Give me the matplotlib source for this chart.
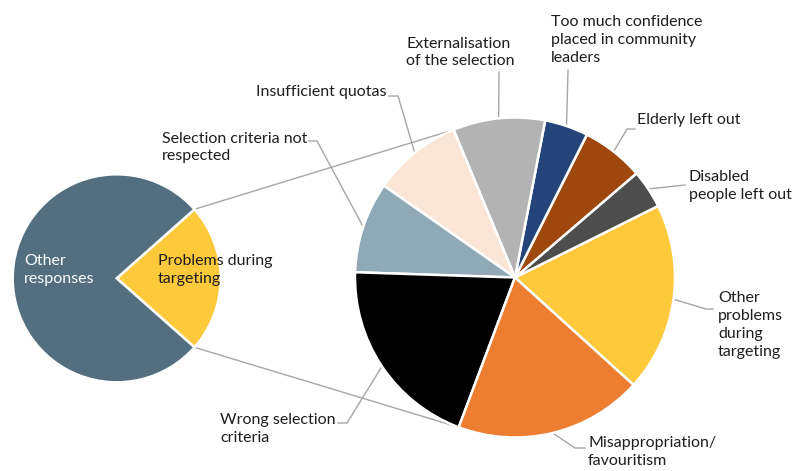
import numpy as np
import matplotlib
matplotlib.use("Agg")
import matplotlib.pyplot as plt

# Primary pie: share of responses
main_labels = ["Problems during\ntargeting", "Other responses"]
main_values = [23.1, 76.9]
main_colors = ["#FFC93C", "#526E7F"]

# Secondary pie: breakdown of problems during targeting (%)
detail_labels = [
    "Other\nproblems\nduring\ntargeting",
    "Disabled\npeople left out",
    "Elderly left out",
    "Too much confidence\nplaced in community\nleaders",
    "Externalisation\nof the selection",
    "Insufficient quotas",
    "Selection criteria not\nrespected",
    "Wrong selection\ncriteria",
    "Misappropriation/\nfavouritism",
]
detail_values = [19.1, 3.9, 6.3, 4.4, 9.3, 9.0, 9.2, 19.8, 19.0]
detail_colors = ["#FFC93C", "#4D4D4D", "#9E480E", "#25457A", "#B3B3B3",
                 "#FBE5D6", "#8FA9B6", "#000000", "#ED7D31"]

W, H = 796, 471
FONT = "Lato"
FS = 11.5
LS = 1.36
TXT = "#1E1E1E"
LINE = "#A6A6A6"

fig = plt.figure(figsize=(W / 100, H / 100), dpi=100)
ax = fig.add_axes([0, 0, 1, 1])


def Y(y):
    return H - y


# pie geometry (pixel layout, y measured from top)
c1, r1 = (116.7, Y(278.3)), 104
c2, r2 = (515.0, Y(277.5)), 160

main_span = main_values[0] / sum(main_values) * 360
w1, _ = ax.pie(main_values, colors=main_colors, center=c1, radius=r1,
               startangle=-main_span / 2, counterclock=True,
               wedgeprops=dict(edgecolor="white", linewidth=1.8))
w2, _ = ax.pie(detail_values, colors=detail_colors, center=c2, radius=r2,
               startangle=-42.2, counterclock=True,
               wedgeprops=dict(edgecolor="white", linewidth=1.8))


def on_circle(c, r, ang):
    a = np.deg2rad(ang)
    return c[0] + r * np.cos(a), c[1] + r * np.sin(a)


# connector lines between the two pies
p_up = on_circle(c1, r1, w1[0].theta2)
p_dn = on_circle(c1, r1, w1[0].theta1)
q_up = on_circle(c2, r2, w2[4].theta2)
q_dn = on_circle(c2, r2, w2[7].theta2)
ax.plot([p_up[0], q_up[0]], [p_up[1], q_up[1]], color=LINE, lw=1.0, zorder=0)
ax.plot([p_dn[0], q_dn[0]], [p_dn[1], q_dn[1]], color=LINE, lw=1.0, zorder=0)

# label layout: anchor x, horizontal anchor, block centre y,
# leader path after the wedge edge
layout = [
    (718, "left", 325, [(706, 309), (713, 309)]),
    (689, "left", 186, [(685, 185)]),
    (637, "left", 120, [(627, 129), (635, 129)]),
    (551, "left", 40, [(568, 70)]),
    (406, "left", 52.5, [(499, 72)]),
    (387, "right", 92, [(398, 96), (389, 96)]),
    (307, "right", 147.5, [(317, 141), (309, 141)]),
    (336, "right", 429, [(347, 423), (338, 423)]),
    (588, "left", 452, [(575, 448), (585, 448)]),
]

for wedge, label, (tx, ha, ty, path) in zip(w2, detail_labels, layout):
    mid = 0.5 * (wedge.theta1 + wedge.theta2)
    sx, sy = on_circle(c2, r2, mid)
    xs = [sx] + [p[0] for p in path]
    ys = [sy] + [Y(p[1]) for p in path]
    ax.plot(xs, ys, color=LINE, lw=1.0, zorder=0.5)
    ax.text(tx, Y(ty), label, ha=ha, va="center", multialignment="left",
            fontsize=FS, family=FONT, color=TXT, linespacing=LS)

ax.text(24, Y(270), main_labels[1].replace(" ", "\n"), ha="left", va="center",
        fontsize=FS, family=FONT, color="white", linespacing=LS)
ax.text(158, Y(270), main_labels[0], ha="left", va="center",
        fontsize=FS, family=FONT, color=TXT, linespacing=LS)

ax.set_xlim(0, W)
ax.set_ylim(0, H)
ax.set_aspect("equal")
ax.axis("off")
fig.savefig("out.png", dpi=100, facecolor="white")
